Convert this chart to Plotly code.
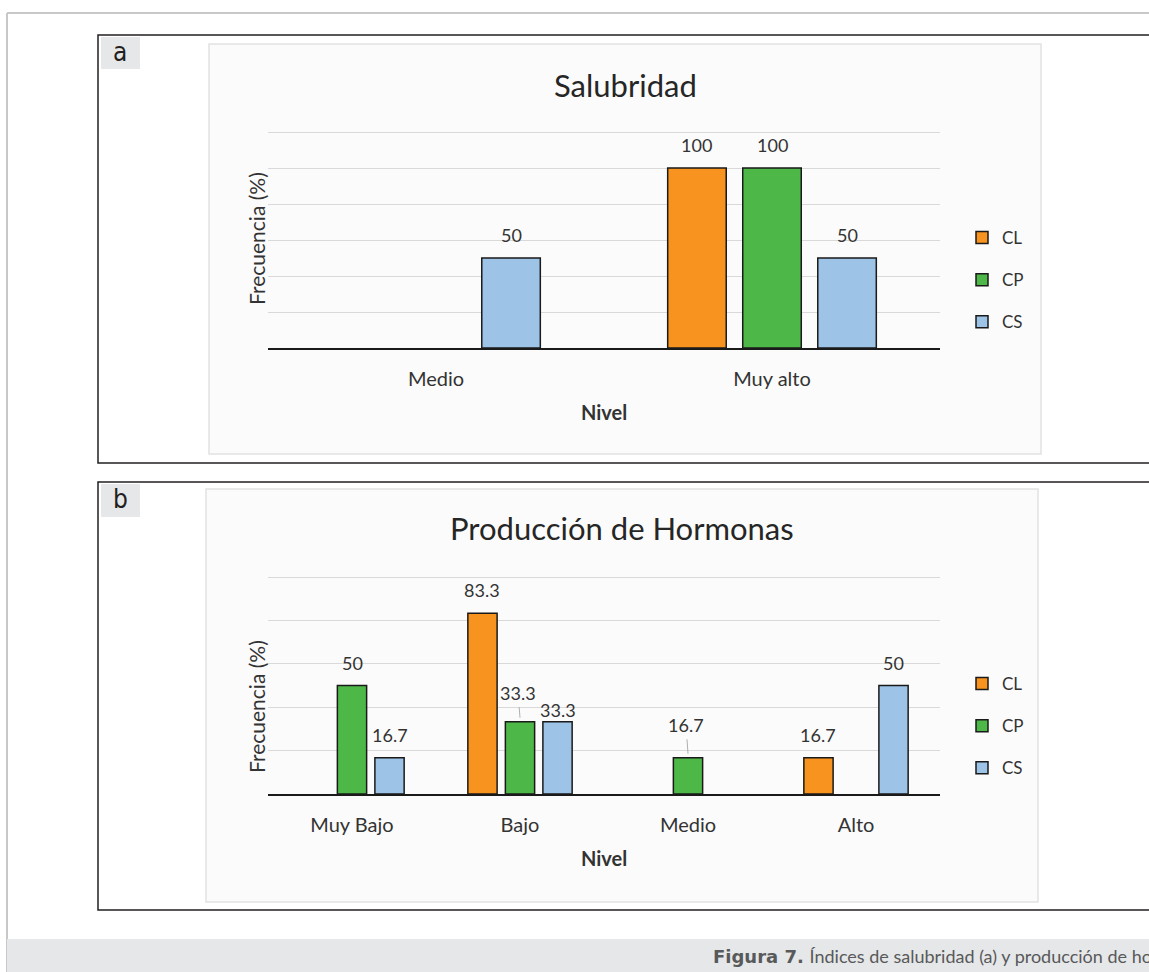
import plotly.graph_objects as go

# ---- data ----
series = ["CL", "CP", "CS"]
colors = ["#F7931E", "#4DB748", "#9DC3E6"]

sal_levels = ["Medio", "Muy alto"]
sal_CL = [None, 100]
sal_CP = [None, 100]
sal_CS = [50, 50]

hor_levels = ["Muy Bajo", "Bajo", "Medio", "Alto"]
hor_CL = [None, 83.3, None, 16.7]
hor_CP = [50, 33.3, 16.7, None]
hor_CS = [16.7, 33.3, None, 50]

W, H = 1149, 972
FONT = "Lato, 'Open Sans', sans-serif"
TXT = "#333333"
BARGAP, GROUPGAP = 0.33, 0.22


def fx(p):
    return p / W


def fy(p):
    return 1 - p / H


fig = go.Figure()

# px per unit: panel a 1.8, panel b 2.17 (range padded slightly so the top gridline shows)
panels = [
    dict(levels=sal_levels, vals=[sal_CL, sal_CP, sal_CS], xa="x", ya="y",
         legend="legend", ymax=121, scale=1.8, left=268, right=940, base=348),
    dict(levels=hor_levels, vals=[hor_CL, hor_CP, hor_CS], xa="x2", ya="y2",
         legend="legend2", ymax=101, scale=2.17, left=268, right=940, base=794),
]

for p in panels:
    for name, col, vals in zip(series, colors, p["vals"]):
        fig.add_trace(go.Bar(
            x=p["levels"], y=vals, name=name, xaxis=p["xa"], yaxis=p["ya"],
            marker=dict(color=col, line=dict(color="#1a1a1a", width=1.5)),
            legend=p["legend"], legendgroup=p["legend"] + name,
            hoverinfo="skip",
        ))

# value labels above the bars (pixel offset of each bar within its group)
label_lift = {("x2", 1, 1): 29, ("x2", 1, 2): 12, ("x2", 2, 1): 33}
leader = {("x2", 1, 1), ("x2", 2, 1)}
annotations = []
for p in panels:
    n = len(p["levels"])
    cat_w = (p["right"] - p["left"]) / n
    slot = cat_w * (1 - BARGAP) / len(series)
    for si, vals in enumerate(p["vals"]):
        for ci, v in enumerate(vals):
            if v is None:
                continue
            key = (p["xa"], ci, si)
            lift = label_lift.get(key, 23)
            xs = (si - 1) * slot
            lab_font = dict(family=FONT, size=18, color=TXT)
            if key in leader:
                annotations.append(dict(
                    x=p["levels"][ci], y=v, xref=p["xa"], yref=p["ya"],
                    text=f"{v:g}", showarrow=True, arrowhead=0, arrowwidth=0.8,
                    arrowcolor="#9a9a9a", ax=-2, ay=-(lift - 4), xshift=xs,
                    yshift=4, standoff=0, startstandoff=2, font=lab_font))
            else:
                annotations.append(dict(
                    x=p["levels"][ci], y=v, xref=p["xa"], yref=p["ya"],
                    text=f"{v:g}", showarrow=False, xshift=xs, yshift=lift,
                    yanchor="middle", font=lab_font))

# chart titles and axis titles
for title, tx, ty, ny, fy_ in [("Salubridad", 625, 85, 412, 239),
                               ("Producción de Hormonas", 622, 528, 858, 707)]:
    annotations.append(dict(x=fx(tx), y=fy(ty), xref="paper", yref="paper",
                            text=title, showarrow=False, xanchor="center", yanchor="middle",
                            font=dict(family=FONT, size=31, color="#262626")))
    annotations.append(dict(x=fx(604), y=fy(ny), xref="paper", yref="paper",
                            text="<b>Nivel</b>", showarrow=False, xanchor="center", yanchor="middle",
                            font=dict(family=FONT, size=20, color=TXT)))
    annotations.append(dict(x=fx(256), y=fy(fy_), xref="paper", yref="paper",
                            text="Frecuencia (%)", showarrow=False, textangle=-90,
                            xanchor="center", yanchor="middle",
                            font=dict(family=FONT, size=21, color=TXT)))

# panel letters
for letter, cy in [("a", 52), ("b", 499)]:
    annotations.append(dict(x=fx(120), y=fy(cy), xref="paper", yref="paper",
                            text=letter, showarrow=False, xanchor="center", yanchor="middle",
                            font=dict(family="'Liberation Sans Narrow', 'DejaVu Sans Condensed', sans-serif",
                                      size=26, color="#231f20")))

# figure caption (runs past the right edge of the page)
annotations.append(dict(
    x=fx(711), y=fy(956), xref="paper", yref="paper", xanchor="left", yanchor="middle",
    text=("<span style='font-family:DejaVu Sans;font-size:18px'><b>Figura 7.</b>&nbsp;</span>"
          "Índices de salubridad (a) y producción de hormonas (b)."),
    showarrow=False, font=dict(family=FONT, size=18, color="#58595b")))

shapes = [
    # outer frame
    dict(type="line", xref="paper", yref="paper", x0=fx(7), x1=1.02, y0=fy(13), y1=fy(13),
         line=dict(color="#c8c8c8", width=2), layer="below"),
    dict(type="line", xref="paper", yref="paper", x0=fx(7), x1=fx(7), y0=fy(13), y1=-0.02,
         line=dict(color="#c8c8c8", width=2), layer="below"),
    # caption band
    dict(type="rect", xref="paper", yref="paper", x0=fx(7), x1=1.02, y0=fy(939), y1=-0.02,
         fillcolor="#e6e7e8", line=dict(width=0), layer="below"),
]
for top, bot, in_top, in_bot, in_l, in_r, lab_t, lab_b in [
        (35, 463, 44, 454, 209, 1041, 37, 69),
        (482, 910, 489, 902, 206, 1038, 484, 517)]:
    shapes.append(dict(type="rect", xref="paper", yref="paper", x0=fx(98), x1=1.02,
                       y0=fy(bot), y1=fy(top), line=dict(color="#231f20", width=1.5),
                       fillcolor="white", layer="below"))
    shapes.append(dict(type="rect", xref="paper", yref="paper", x0=fx(in_l), x1=fx(in_r),
                       y0=fy(in_bot), y1=fy(in_top), line=dict(color="#e2e2e2", width=1.5),
                       fillcolor="#fbfbfb", layer="below"))
    shapes.append(dict(type="rect", xref="paper", yref="paper", x0=fx(101), x1=fx(140),
                       y0=fy(lab_b), y1=fy(lab_t), line=dict(width=0),
                       fillcolor="#e6e7e8", layer="below"))

axis_common_x = dict(showline=True, linecolor="#1a1a1a", linewidth=1.5, ticks="",
                     showgrid=False, fixedrange=True, ticklabelstandoff=12,
                     tickfont=dict(family=FONT, size=20, color=TXT))
axis_common_y = dict(showticklabels=False, showgrid=True, gridcolor="#d9d9d9", gridwidth=1.2,
                     zeroline=False, tick0=0, dtick=20, ticks="", fixedrange=True)

legend_common = dict(font=dict(family=FONT, size=17, color=TXT), bgcolor="rgba(0,0,0,0)",
                     traceorder="grouped", tracegroupgap=17, xanchor="left", yanchor="middle",
                     itemclick=False, itemdoubleclick=False)

layout_axes = {}
for i, p in enumerate(panels):
    sfx = "" if i == 0 else "2"
    top = p["base"] - p["ymax"] * p["scale"]
    layout_axes["xaxis" + sfx] = dict(domain=[fx(p["left"]), fx(p["right"])],
                                      anchor="y" + sfx, **axis_common_x)
    layout_axes["yaxis" + sfx] = dict(domain=[fy(p["base"]), fy(top)], anchor="x" + sfx,
                                      range=[0, p["ymax"]], **axis_common_y)

fig.update_layout(
    width=W, height=H, margin=dict(l=0, r=0, t=0, b=0),
    paper_bgcolor="white", plot_bgcolor="rgba(0,0,0,0)",
    barmode="group", bargap=BARGAP, bargroupgap=GROUPGAP,
    legend=dict(x=fx(962), y=fy(280), **legend_common),
    legend2=dict(x=fx(962), y=fy(726), **legend_common),
    annotations=annotations, shapes=shapes, showlegend=True,
    **layout_axes,
)

fig.write_html("out.html")
